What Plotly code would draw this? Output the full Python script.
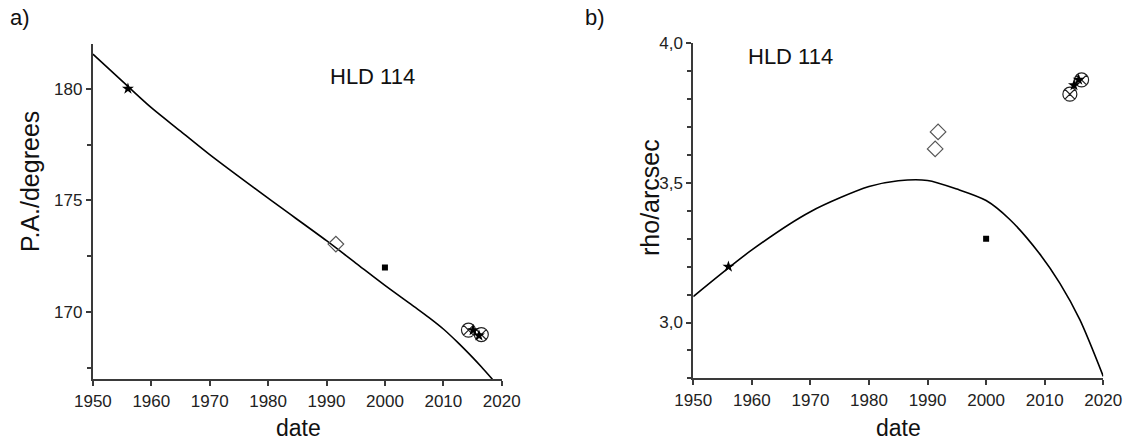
import plotly.graph_objects as go

# ---- data: panel a) position angle ----
pa_curve_year = [1950, 1956, 1960, 1965, 1970, 1980, 1990, 1995, 2000, 2005, 2007.5, 2010, 2012.5, 2015, 2016.5, 2018.4]
pa_curve_val = [181.55, 180.1, 179.15, 178.1, 177.05, 175.1, 173.2, 172.2, 171.2, 170.25, 169.77, 169.25, 168.64, 167.98, 167.56, 167.0]

pa_star_year = [1956, 2015.1, 2016.1]
pa_star_val = [180.0, 169.2, 168.96]
pa_diamond_year = [1991.6]
pa_diamond_val = [173.05]
pa_square_year = [2000]
pa_square_val = [172.0]
pa_cx_year = [2014.3, 2016.5]
pa_cx_val = [169.2, 169.0]

# ---- data: panel b) separation ----
rho_curve_year = [1950, 1960, 1970, 1980, 1985, 1990, 1995, 2000, 2004, 2009, 2012.6, 2016, 2020]
rho_curve_val = [3.093, 3.26, 3.397, 3.487, 3.508, 3.509, 3.478, 3.437, 3.37, 3.25, 3.14, 3.01, 2.807]

rho_star_year = [1956, 2015.0, 2015.8]
rho_star_val = [3.20, 3.85, 3.87]
rho_diamond_year = [1991.3, 1991.8]
rho_diamond_val = [3.622, 3.683]
rho_square_year = [2000]
rho_square_val = [3.30]
rho_cx_year = [2014.3, 2016.3]
rho_cx_val = [3.818, 3.869]

FONT = "Liberation Sans, Arial, sans-serif"
AX = "#3a3a3a"

fig = go.Figure()

def add_panel(xa, ya, cy, cv, sy, sv, dy, dv, qy, qv, xy, xv):
    fig.add_trace(go.Scatter(x=cy, y=cv, mode="lines",
                             line=dict(color="black", width=1.6, shape="spline", smoothing=0.8),
                             xaxis=xa, yaxis=ya, showlegend=False, hoverinfo="skip"))
    fig.add_trace(go.Scatter(x=dy, y=dv, mode="markers",
                             marker=dict(symbol="diamond-open", size=12, color="#555555", line=dict(width=1.2)),
                             xaxis=xa, yaxis=ya, showlegend=False))
    fig.add_trace(go.Scatter(x=qy, y=qv, mode="markers",
                             marker=dict(symbol="square", size=6, color="black"),
                             xaxis=xa, yaxis=ya, showlegend=False))
    fig.add_trace(go.Scatter(x=xy, y=xv, mode="markers",
                             marker=dict(symbol="circle-x-open", size=14, color="#222222", line=dict(width=1.2)),
                             xaxis=xa, yaxis=ya, showlegend=False))
    fig.add_trace(go.Scatter(x=sy, y=sv, mode="markers",
                             marker=dict(symbol="star", size=9, color="black"),
                             xaxis=xa, yaxis=ya, showlegend=False))

add_panel("x", "y", pa_curve_year, pa_curve_val, pa_star_year, pa_star_val,
          pa_diamond_year, pa_diamond_val, pa_square_year, pa_square_val, pa_cx_year, pa_cx_val)
add_panel("x2", "y2", rho_curve_year, rho_curve_val, rho_star_year, rho_star_val,
          rho_diamond_year, rho_diamond_val, rho_square_year, rho_square_val, rho_cx_year, rho_cx_val)

axis_common = dict(showline=True, linecolor=AX, linewidth=2, mirror=False, showgrid=False,
                   zeroline=False, ticks="outside", ticklen=5, tickwidth=1.5, tickcolor=AX,
                   automargin=False,
                   tickfont=dict(family=FONT, size=17, color="#222"))

xcommon = dict(axis_common, range=[1950, 2020], dtick=10, tick0=1950)
fig.update_layout(
    template="none",
    xaxis=dict(xcommon, domain=[0.0825, 0.4456], anchor="y"),
    yaxis=dict(axis_common, domain=[0.1438, 0.9007], anchor="x", range=[167, 182], dtick=5, tick0=0,
               minor=dict(dtick=2.5, tick0=0, ticks="outside", ticklen=4, tickwidth=1.5, tickcolor=AX)),
    xaxis2=dict(xcommon, domain=[0.6157, 0.9798], anchor="y2"),
    yaxis2=dict(axis_common, domain=[0.146, 0.902], anchor="x2", range=[2.8, 4.0], dtick=0.5, tick0=0,
                tickformat=".1f",
                minor=dict(dtick=0.1, tick0=0, ticks="outside", ticklen=4, tickwidth=1.5, tickcolor=AX)),
    separators=",.",
    width=1126, height=443,
    margin=dict(l=0, r=0, t=0, b=0, autoexpand=False),
    paper_bgcolor="white", plot_bgcolor="white",
    font=dict(family=FONT, color="#222"),
)

ann = [
    dict(text="a)", x=8 / 1126, y=1 - 18 / 443, size=22, xa="left", ya="middle"),
    dict(text="b)", x=583 / 1126, y=1 - 18 / 443, size=22, xa="left", ya="middle"),
    dict(text="HLD 114", x=372 / 1126, y=1 - 77 / 443, size=22, xa="center", ya="middle"),
    dict(text="HLD 114", x=790 / 1126, y=1 - 57 / 443, size=22, xa="center", ya="middle"),
    dict(text="date", x=298 / 1126, y=0, size=23, xa="center", ya="bottom"),
    dict(text="date", x=898 / 1126, y=0, size=23, xa="center", ya="bottom"),
]
for a in ann:
    fig.add_annotation(text=a["text"], x=a["x"], y=a["y"], xref="paper", yref="paper",
                       xanchor=a["xa"], yanchor=a["ya"],
                       showarrow=False, font=dict(family=FONT, size=a["size"], color="#111"))

fig.add_annotation(text="P.A./degrees", x=30 / 1126, y=1 - 182 / 443, xref="paper", yref="paper",
                   textangle=-90, showarrow=False, xanchor="center", yanchor="middle",
                   font=dict(family=FONT, size=25, color="#111"))
fig.add_annotation(text="rho/arcsec", x=650 / 1126, y=1 - 198 / 443, xref="paper", yref="paper",
                   textangle=-90, showarrow=False, xanchor="center", yanchor="middle",
                   font=dict(family=FONT, size=25, color="#111"))

fig.write_html("out.html", config={"displayModeBar": False},
               post_script="document.body.style.margin='0';document.body.style.overflow='hidden';")
